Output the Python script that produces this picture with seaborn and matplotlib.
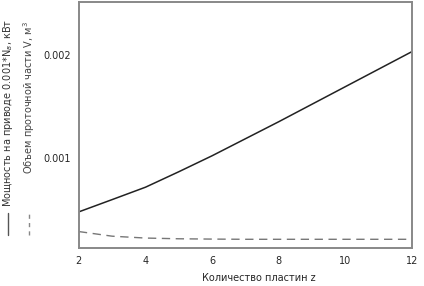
import numpy as np
import pandas as pd
import matplotlib
matplotlib.use("Agg")
import matplotlib.pyplot as plt
from matplotlib.lines import Line2D
import seaborn as sns

# data
plates = [2, 3, 4, 5, 6, 7, 8, 9, 10, 11, 12]
power = [0.000476, 0.000595, 0.000715, 0.000865, 0.001020, 0.001185, 0.001350, 0.001520, 0.001690, 0.001860, 0.002030]
volume = [0.000285, 0.000240, 0.000222, 0.000215, 0.000212, 0.000210, 0.000210, 0.000210, 0.000210, 0.000210, 0.000210]

label_power = "Мощность на приводе 0.001*N$_в$, кВт"
label_volume = "Объем проточной части V, м$^3$"
xlabel = "Количество пластин z"

df = pd.DataFrame({"z": plates, "power": power, "volume": volume})

sns.set_theme(style="white")
plt.rcParams["font.family"] = ["Liberation Sans Narrow", "DejaVu Sans"]

fig = plt.figure(figsize=(4.24, 2.86), dpi=100)
ax = fig.add_axes([0.186, 0.133, 0.786, 0.86])

sns.lineplot(data=df, x="z", y="power", ax=ax, color="#222222", lw=1.1)
sns.lineplot(data=df, x="z", y="volume", ax=ax, color="#777777", lw=1.0, linestyle=(0, (6, 4)))

ax.set_xlim(2, 12)
ax.set_ylim(0.000126, 0.00251)
ax.set_xticks([2, 4, 6, 8, 10, 12])
ax.set_yticks([0.001, 0.002])
ax.set_yticklabels(["0.001", "0.002"])
ax.tick_params(direction="in", length=4, width=1, color="#555555", labelsize=7, pad=6)
ax.set_xlabel(xlabel, fontsize=7, labelpad=2)
ax.xaxis.set_label_coords(0.37, -0.1)
ax.xaxis.label.set_horizontalalignment("left")
ax.set_ylabel("")
for s in ax.spines.values():
    s.set_color("#888888")
    s.set_linewidth(1.4)

# vertical legend on the left side
fig.text(0.018, 0.935, label_power, rotation=90, fontsize=7, va="top", ha="center", color="#333333")
fig.text(0.068, 0.925, label_volume, rotation=90, fontsize=7, va="top", ha="center", color="#444444")
fig.add_artist(Line2D([0.018, 0.018], [0.18, 0.255], color="#555555", lw=1.0, transform=fig.transFigure))
fig.add_artist(Line2D([0.068, 0.068], [0.18, 0.255], color="#888888", lw=1.0, linestyle=(0, (3, 3)), transform=fig.transFigure))

fig.savefig("out.png", dpi=100)
